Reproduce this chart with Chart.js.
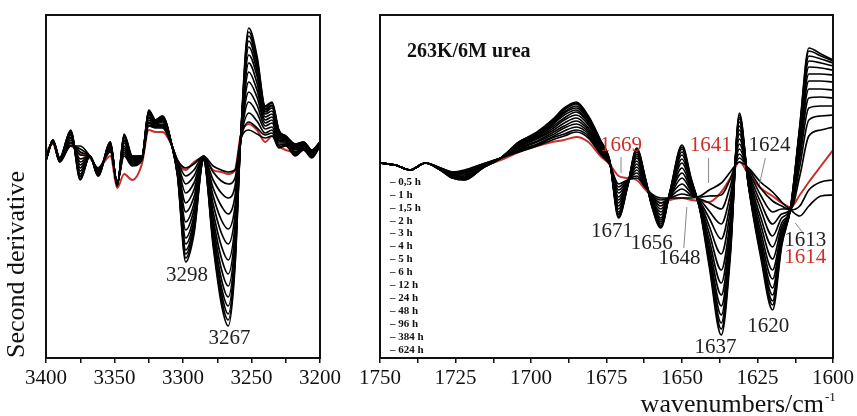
<!DOCTYPE html>
<html>
<head>
<meta charset="utf-8">
<script src="https://cdn.jsdelivr.net/npm/chart.js@4.4.1/dist/chart.umd.min.js"></script>
<style>
  body { margin: 0; background: #fff; width: 857px; height: 416px; overflow: hidden; position: relative; }
  #nh { position: absolute; left: 0; top: 0; }
  #amide { position: absolute; left: 345px; top: 0; }
</style>
</head>
<body>
<canvas id="nh" width="345" height="416"></canvas>
<canvas id="amide" width="512" height="416"></canvas>
<script>
const serif = "'Liberation Serif', 'Times New Roman', serif";
const red = '#c9302c';

const times = ['0,5 h', '1 h', '1,5 h', '2 h', '3 h', '4 h', '5 h', '6 h', '12 h', '24 h', '48 h', '96 h', '384 h', '624 h'];

// N-H stretching region, one row per wavenumber, one column per curve (a.u.)
const nhWn = [3400, 3395, 3390, 3382, 3375, 3368, 3362, 3353, 3348, 3343, 3337, 3330, 3325, 3320, 3315, 3308, 3304,
  3298, 3292, 3285, 3278, 3272, 3267, 3262, 3258, 3252, 3246, 3240, 3235, 3230, 3225, 3218, 3212, 3206, 3200];
const nhRows = [
  [26,26,26,26,26,26,26,26,26,26,26,26,26,26],
  [44,44,44,45,45,45,45,45,45,46,46,46,46,46],
  [24,24,25,25,25,26,26,27,27,27,27,28,28,28],
  [40,41,43,44,46,48,49,51,52,53,54,55,55,56],
  [40,37,34,31,27,24,21,18,15,12,10,9,7,6],
  [30,30,30,30,30,30,30,30,30,30,30,30,30,30],
  [18,17,17,16,15,14,13,13,12,12,11,11,10,10],
  [34,35,36,37,38,39,40,41,41,42,43,43,44,44],
  [4,4,3,3,3,2,2,1,1,1,1,0,0,0],
  [30,32,34,36,38,40,43,45,46,48,49,50,51,52],
  [20,21,22,23,24,25,26,27,27,28,29,29,30,30],
  [26,26,27,27,27,28,28,29,29,29,29,30,30,30],
  [60,61,63,64,66,68,69,71,72,73,74,75,75,76],
  [58,59,59,60,61,62,63,63,64,64,65,65,66,66],
  [58,59,60,61,62,64,65,66,67,68,68,69,70,70],
  [40,40,40,40,40,40,40,40,40,40,40,40,40,40],
  [26,25,23,22,20,18,17,15,14,13,12,11,11,10],
  [18,10,2,-7,-17,-26,-36,-44,-52,-58,-64,-68,-72,-76],
  [22,16,10,3,-4,-11,-18,-24,-30,-35,-39,-42,-45,-48],
  [30,30,29,29,29,28,28,27,27,27,27,26,26,26],
  [20,14,6,-2,-10,-18,-26,-33,-39,-45,-50,-54,-57,-60],
  [16,5,-7,-20,-34,-47,-60,-72,-83,-93,-101,-107,-113,-118],
  [14,2,-12,-28,-43,-58,-74,-88,-100,-111,-120,-128,-134,-140],
  [16,8,0,-10,-20,-29,-39,-47,-55,-62,-68,-72,-76,-80],
  [46,46,46,46,46,46,46,46,46,46,46,46,46,46],
  [56,64,73,84,94,104,114,123,131,139,145,150,154,158],
  [52,58,65,73,81,89,96,103,110,115,120,124,127,130],
  [48,51,53,57,60,63,66,69,72,74,76,77,79,80],
  [50,53,56,59,63,66,69,72,75,78,80,81,83,84],
  [38,39,41,43,45,46,48,50,51,53,54,55,55,56],
  [40,41,42,43,44,45,46,47,47,48,49,49,50,50],
  [30,31,32,33,34,36,37,38,39,40,40,41,42,42],
  [36,37,37,38,39,40,41,41,42,42,43,43,44,44],
  [28,29,29,30,31,32,33,33,34,34,35,35,36,36],
  [40,40,41,41,41,42,42,43,43,43,43,44,44,44]
];
const nhRed = [34, 42, 26, 40, 32, 28, 18, 30, -2, 12, 6, 22, 56, 54, 54, 40, 24,
  16, 24, 28, 16, 14, 12, 16, 50, 62, 56, 44, 50, 40, 36, 34, 36, 30, 40];

// amide I region
const amideWn = [1750, 1745, 1740, 1735, 1730, 1726, 1722, 1716, 1710, 1704, 1698, 1693, 1689, 1685, 1681, 1677, 1674,
  1671, 1668, 1665, 1662, 1660, 1657, 1654, 1650, 1647, 1644, 1641, 1637, 1634, 1631, 1628, 1624, 1620, 1617, 1614,
  1611, 1608, 1604, 1600];
const amideRows = [
  [23,23,23,23,23,23,23,23,23,23,23,23,23,23],
  [21,21,21,21,21,21,21,21,21,21,21,21,21,21],
  [16,16,16,16,16,16,16,16,16,16,16,16,16,16],
  [23,23,23,23,23,23,23,23,23,23,23,23,23,23],
  [18,18,18,17,17,17,17,17,17,16,16,16,16,16],
  [14,14,13,12,12,11,11,10,10,9,9,8,8,8],
  [16,15,14,13,12,11,10,9,9,8,7,7,6,6],
  [22,22,21,21,21,20,20,19,19,19,19,18,18,18],
  [28,28,28,28,28,28,28,28,28,28,28,28,28,28],
  [34,35,36,37,38,39,40,41,41,42,43,43,44,44],
  [40,41,42,44,45,47,48,49,50,51,52,53,53,54],
  [46,48,49,51,53,55,57,59,61,62,63,64,65,66],
  [50,52,55,58,60,63,66,68,71,73,74,76,77,78],
  [54,56,59,62,65,68,71,74,76,78,80,82,83,84],
  [48,50,52,54,56,58,61,63,64,66,67,68,69,70],
  [32,33,34,36,37,39,40,41,42,43,44,45,45,46],
  [22,22,23,23,23,24,24,25,25,25,25,26,26,26],
  [2,-1,-4,-7,-11,-14,-17,-20,-23,-26,-28,-29,-31,-32],
  [6,6,5,4,4,3,3,2,2,1,1,0,0,0],
  [8,10,13,16,19,22,25,28,30,32,34,36,37,38],
  [-2,-1,-1,0,1,2,3,3,4,4,5,5,6,6],
  [-8,-9,-10,-11,-12,-14,-15,-16,-17,-18,-18,-19,-20,-20],
  [-12,-14,-17,-20,-23,-26,-29,-32,-34,-36,-38,-40,-41,-42],
  [-12,-12,-11,-10,-10,-9,-9,-8,-8,-7,-7,-6,-6,-6],
  [-12,-8,-3,2,8,13,18,23,27,31,34,37,39,41],
  [-12,-10,-9,-7,-5,-3,-1,1,3,4,5,6,7,8],
  [-10,-11,-13,-14,-16,-17,-19,-20,-21,-22,-23,-24,-24,-25],
  [-4,-10,-17,-25,-32,-40,-47,-54,-60,-66,-70,-74,-77,-80],
  [3,-9,-23,-38,-53,-68,-84,-97,-109,-120,-129,-137,-143,-149],
  [14,7,0,-9,-17,-25,-34,-41,-48,-54,-59,-63,-67,-70],
  [24,28,32,37,42,47,52,56,60,64,67,69,71,73],
  [18,17,15,13,11,10,8,6,5,3,2,1,1,0],
  [4,-2,-9,-16,-23,-31,-38,-45,-51,-56,-60,-64,-67,-70],
  [-6,-15,-26,-38,-50,-61,-73,-84,-93,-102,-109,-115,-119,-124],
  [-16,-20,-23,-28,-32,-37,-41,-45,-49,-52,-54,-56,-58,-60],
  [-24,-24,-23,-23,-23,-23,-22,-22,-22,-22,-21,-21,-21,-21],
  [-30,-20,10,20,28,34,40,45,49,52,55,57,59,60],
  [-20,-4,50,66,78,88,97,105,112,119,125,130,135,138],
  [-10,4,56,70,80,89,97,105,112,118,123,127,130,132],
  [-9,6,59,71,80,88,96,104,111,116,120,123,125,126]
];
const amideRed = [23, 21, 16, 23, 18, 14, 14, 20, 26, 34, 40, 44, 46, 49, 44, 30, 22,
  10, 8, 6, -4, -10, -17, -14, -12, -14, -15, -16, -6, 8, 24, 12, -2, -10, -17, -21,
  -9, 4, 20, 36];

// peak labels [text, wavenumber, value, red?]
const nhLabels = [['3298', 3297, -89, false], ['3267', 3266, -152, false]];
const amideLabels = [
  ['1669', 1670.2, 41, true], ['1641', 1640.5, 41, true], ['1624', 1621, 41, false],
  ['1671', 1673.2, -45, false], ['1656', 1660, -57, false], ['1648', 1650.8, -72, false],
  ['1637', 1638.9, -161, false], ['1620', 1621.4, -140, false],
  ['1613', 1609.2, -54, false], ['1614', 1609.2, -71, true]
];
// leader lines [wn1, v1, wn2, v2]
const amideLeaders = [
  [1670.2, 29, 1670.2, 13], [1641.2, 28, 1641.2, 3], [1622.4, 28, 1624.4, 1],
  [1648.4, -21, 1649.4, -62], [1612.5, -37, 1609.9, -47]
];

const buildDatasets = (wn, rows, redValues) => {
  const sets = times.map((t, k) => ({
    label: t,
    data: wn.map((w, i) => ({ x: w, y: rows[i][k] })),
    borderColor: '#000',
    borderWidth: 1.7
  }));
  sets.push({
    label: 'red',
    data: wn.map((w, i) => ({ x: w, y: redValues[i] })),
    borderColor: red,
    borderWidth: 2
  });
  return sets;
}

const decor = (labels, leaders, extra) => ({
  id: 'decor',
  afterDraw(chart) {
    const ctx = chart.ctx;
    const a = chart.chartArea;
    const xs = chart.scales.x, ys = chart.scales.y;
    ctx.save();
    ctx.strokeStyle = '#888';
    ctx.lineWidth = 1;
    leaders.forEach(l => {
      ctx.beginPath();
      ctx.moveTo(xs.getPixelForValue(l[0]), ys.getPixelForValue(l[1]));
      ctx.lineTo(xs.getPixelForValue(l[2]), ys.getPixelForValue(l[3]));
      ctx.stroke();
    });
    ctx.font = '21px ' + serif;
    ctx.textAlign = 'center';
    ctx.textBaseline = 'middle';
    labels.forEach(l => {
      ctx.fillStyle = l[3] ? red : '#222';
      ctx.fillText(l[0], xs.getPixelForValue(l[1]), ys.getPixelForValue(l[2]));
    });
    if (extra) extra(ctx, a);
    ctx.strokeStyle = '#111';
    ctx.lineWidth = 2;
    ctx.strokeRect(a.left, a.top, a.right - a.left, a.bottom - a.top);
    ctx.restore();
  }
});

const xAxis = (min, max, step, every) => ({
  type: 'linear',
  min: min,
  max: max,
  reverse: true,
  afterFit: s => { s.height = 58; },
  ticks: {
    stepSize: step,
    autoSkip: false,
    maxRotation: 0,
    padding: 3,
    color: '#111',
    font: { family: serif, size: 21 },
    callback: v => (v % every === 0 ? String(v) : '')
  },
  grid: { drawOnChartArea: false, tickLength: 5, color: '#111', lineWidth: 1.5 },
  border: { display: false }
});

const baseOptions = {
  responsive: false,
  animation: false,
  events: [],
  elements: { point: { radius: 0 }, line: { cubicInterpolationMode: 'monotone' } },
  plugins: { legend: { display: false }, tooltip: { enabled: false } }
};

new Chart(document.getElementById('nh'), {
  type: 'line',
  data: { datasets: buildDatasets(nhWn, nhRows, nhRed) },
  options: {
    ...baseOptions,
    layout: { padding: { top: 15, right: 25, left: 0, bottom: 0 } },
    scales: {
      x: xAxis(3200, 3400, 25, 50),
      y: {
        min: -172,
        max: 171,
        afterFit: s => { s.width = 46; },
        ticks: { display: false },
        grid: { display: false },
        border: { display: false },
        title: {
          display: true,
          text: 'Second derivative',
          align: 'start',
          color: '#111',
          padding: { top: 2, bottom: 0 },
          font: { family: serif, size: 26 }
        }
      }
    }
  },
  plugins: [decor(nhLabels, [])]
});

new Chart(document.getElementById('amide'), {
  type: 'line',
  data: { datasets: buildDatasets(amideWn, amideRows, amideRed) },
  options: {
    ...baseOptions,
    layout: { padding: { top: 15, right: 22, left: 35, bottom: 0 } },
    scales: {
      x: xAxis(1600, 1750, 12.5, 25),
      y: { display: false, min: -172, max: 171 }
    }
  },
  plugins: [decor(amideLabels, amideLeaders, (ctx, a) => {
    ctx.fillStyle = '#111';
    ctx.textAlign = 'left';
    ctx.textBaseline = 'alphabetic';
    ctx.font = 'bold 20px ' + serif;
    ctx.fillText('263K/6M urea', a.left + 27, a.top + 42);
    // x-axis title with superscript
    ctx.textAlign = 'right';
    ctx.font = '26px ' + serif;
    ctx.fillText('wavenumbers/cm', a.right - 9, 412);
    ctx.textAlign = 'left';
    ctx.font = '13px ' + serif;
    ctx.fillText('-1', a.right - 8, 401);
    ctx.font = 'bold 11px ' + serif;
    ctx.textBaseline = 'middle';
    times.forEach((t, k) => {
      ctx.fillText('\u2013 ' + t, a.left + 10, a.top + 167 + k * 12.9);
    });
  })]
});
</script>
</body>
</html>
